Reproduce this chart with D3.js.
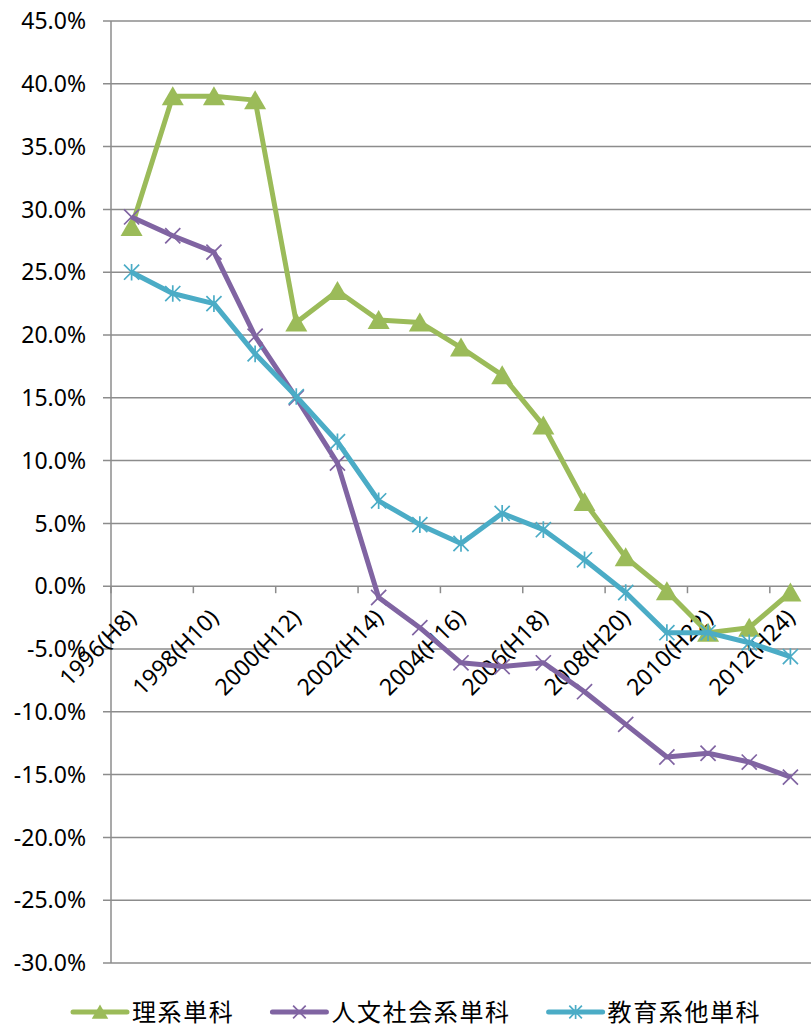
<!DOCTYPE html>
<html>
<head>
<meta charset="utf-8">
<script src="https://cdn.jsdelivr.net/npm/d3@7"></script>
<style>
  body { margin: 0; background: #fff; }
  text { font-family: "Noto Sans", "Open Sans", sans-serif; fill: #000; }
</style>
</head>
<body>
<div id="content"></div>
<script>
// categories and series (percent)
let years = ['1996(H8)', '1997', '1998(H10)', '1999', '2000(H12)', '2001', '2002(H14)', '2003',
             '2004(H16)', '2005', '2006(H18)', '2007', '2008(H20)', '2009', '2010(H22)', '2011', '2012(H24)'];
let science = [28.6, 39.0, 39.0, 38.7, 21.0, 23.5, 21.2, 21.0, 19.0, 16.8, 12.8, 6.7, 2.3, -0.4, -3.7, -3.3, -0.5];
let humanities = [29.4, 27.9, 26.6, 19.9, 15.0, 9.8, -0.9, -3.3, -6.1, -6.4, -6.1, -8.4, -11.0, -13.6, -13.3, -14.0, -15.2];
let education = [25.0, 23.3, 22.5, 18.5, 15.1, 11.5, 6.8, 4.9, 3.4, 5.8, 4.5, 2.1, -0.5, -3.7, -3.7, -4.5, -5.6];
let yTicks = [-30, -25, -20, -15, -10, -5, 0, 5, 10, 15, 20, 25, 30, 35, 40, 45];

let series = [
  {name: '理系単科', values: science, color: '#9bbb59', marker: 'triangle'},
  {name: '人文社会系単科', values: humanities, color: '#8064a2', marker: 'cross'},
  {name: '教育系他単科', values: education, color: '#4bacc6', marker: 'star'},
];

let width = 811;
let height = 1028;
let plotLeft = 111, plotRight = 811, plotTop = 21, plotBottom = 963;

let svg = d3.select('#content').append('svg')
  .attr('width', width)
  .attr('height', height);

let x = d3.scaleBand().domain(years).range([plotLeft, plotRight]);
let y = d3.scaleLinear().domain([-30, 45]).range([plotBottom, plotTop]);
let cx = d => x(d) + x.bandwidth() / 2;

// gridlines
svg.append('g').selectAll('line').data(yTicks).enter().append('line')
  .attr('x1', plotLeft - 8).attr('x2', plotRight)
  .attr('y1', d => y(d)).attr('y2', d => y(d))
  .style('stroke', '#8c8c8c').style('stroke-width', 1.5);

// vertical axis
svg.append('line')
  .attr('x1', plotLeft).attr('x2', plotLeft).attr('y1', plotTop).attr('y2', plotBottom)
  .style('stroke', '#8c8c8c').style('stroke-width', 1.5);

// y labels
svg.append('g').selectAll('text').data(yTicks).enter().append('text')
  .attr('x', 86).attr('y', d => y(d))
  .attr('dy', '0.36em')
  .attr('text-anchor', 'end')
  .style('font-size', '23px')
  .text(d => d.toFixed(1) + '%');

// x ticks on the 0% line, every second category boundary
let tickIdx = d3.range(0, years.length + 1, 2);
svg.append('g').selectAll('line').data(tickIdx).enter().append('line')
  .attr('x1', i => plotLeft + i * x.step()).attr('x2', i => plotLeft + i * x.step())
  .attr('y1', y(0)).attr('y2', y(0) + 7)
  .style('stroke', '#8c8c8c').style('stroke-width', 1.5);

// x labels, rotated
let labeled = years.filter((d, i) => i % 2 == 0);
svg.append('g').selectAll('text').data(labeled).enter().append('text')
  .attr('transform', d => 'translate(' + (cx(d) + 6) + ',' + (y(0) + 33) + ') rotate(-45)')
  .attr('text-anchor', 'end')
  .style('font-size', '23px')
  .text(d => d);

function drawMarker(g, type, color, px, py, s) {
  if (type == 'triangle') {
    g.append('path')
      .attr('d', 'M' + px + ',' + (py - s * 0.5) + 'L' + (px + s * 0.55) + ',' + (py + s * 0.45) + 'L' + (px - s * 0.55) + ',' + (py + s * 0.45) + 'Z')
      .style('fill', color);
  } else {
    let r = s * 0.42;
    let p = 'M' + (px - r) + ',' + (py - r) + 'L' + (px + r) + ',' + (py + r) +
            'M' + (px - r) + ',' + (py + r) + 'L' + (px + r) + ',' + (py - r);
    if (type == 'star') p += 'M' + px + ',' + (py - r * 1.1) + 'L' + px + ',' + (py + r * 1.1);
    g.append('path').attr('d', p)
      .style('stroke', color).style('stroke-width', 1.7).style('fill', 'none');
  }
}

let line = d3.line().x((d, i) => cx(years[i])).y(d => y(d));

series.forEach(function(s) {
  let g = svg.append('g');
  g.append('path').datum(s.values)
    .attr('d', line)
    .style('fill', 'none')
    .style('stroke', s.color)
    .style('stroke-width', 5)
    .style('stroke-linejoin', 'round');
  s.values.forEach(function(v, i) {
    drawMarker(g, s.marker, s.color, cx(years[i]), y(v), s.marker == 'triangle' ? 20 : 18);
  });
});

// legend
let legend = svg.append('g');
let lx = 73, ly = 1012;
series.forEach(function(s) {
  legend.append('line')
    .attr('x1', lx).attr('x2', lx + 54).attr('y1', ly).attr('y2', ly)
    .style('stroke', s.color).style('stroke-width', 5).style('stroke-linecap', 'round');
  drawMarker(legend, s.marker, s.color, lx + 27, ly, 15);
  let t = legend.append('text')
    .attr('x', lx + 59).attr('y', 1020.5)
    .style('font-family', '"Noto Sans CJK JP", sans-serif')
    .style('font-size', '24px')
    .style('letter-spacing', '1.6px')
    .text(s.name);
  lx += 59 + t.node().getComputedTextLength() + 38;
});
</script>
</body>
</html>
